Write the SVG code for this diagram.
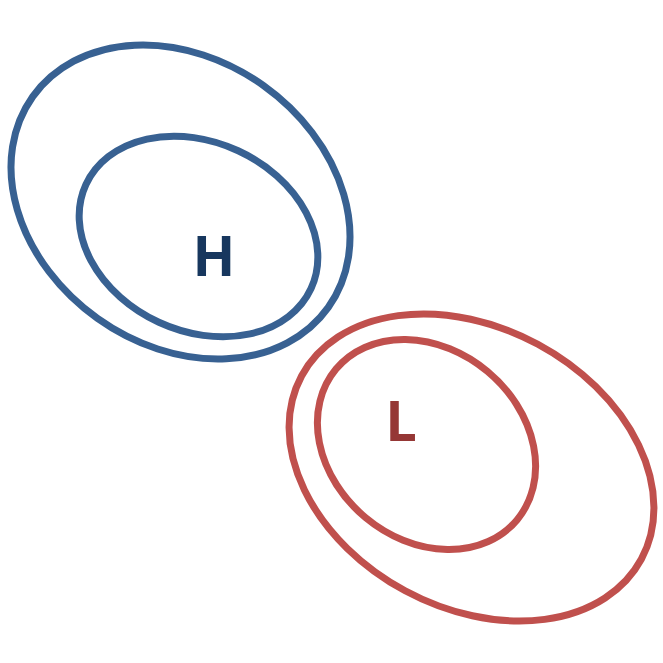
<svg xmlns="http://www.w3.org/2000/svg" width="663" height="663" viewBox="0 0 663 663">
<style>
.b{fill:none;stroke:#386192;stroke-width:7}
.r{fill:none;stroke:#C0504D;stroke-width:7}
.t{font-family:"Open Sans","Liberation Sans",sans-serif;font-weight:bold;font-size:56px;text-anchor:middle}
</style>
<rect width="663" height="663" fill="#fff"/>
<g id="high">
<ellipse class="b" cx="180.5" cy="202" rx="181.5" ry="143" transform="rotate(35.5 180.5 202)"/>
<ellipse class="b" cx="198.5" cy="236.5" rx="124" ry="94.5" transform="rotate(24.8 198.5 236.5)"/>
<text class="t" x="214" y="276" fill="#17375E">H</text>
</g>
<g id="low">
<ellipse class="r" cx="471.5" cy="467.5" rx="193" ry="140" transform="rotate(28.3 471.5 467.5)"/>
<ellipse class="r" cx="426.5" cy="444.5" rx="117.8" ry="95.2" transform="rotate(39.8 426.5 444.5)"/>
<text class="t" x="401" y="441" fill="#953735">L</text>
</g>
<g id="connectors"/>
</svg>
